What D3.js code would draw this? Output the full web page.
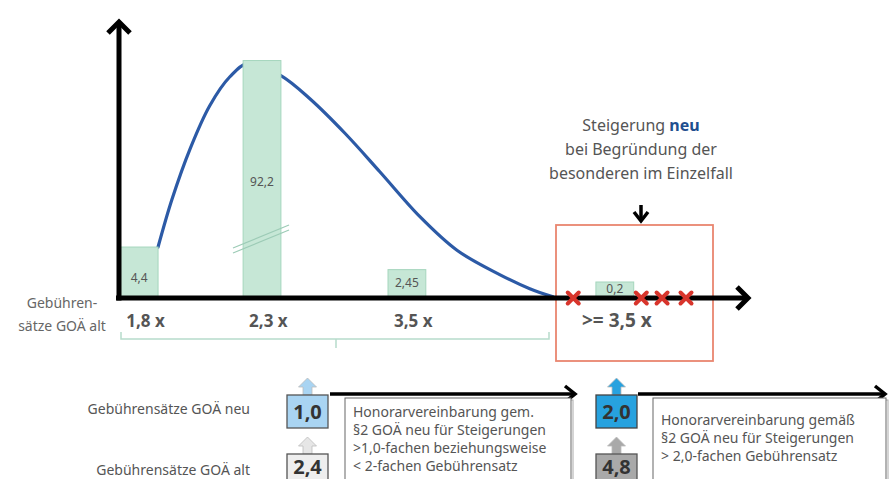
<!DOCTYPE html>
<html>
<head>
<meta charset="utf-8">
<script src="https://cdn.jsdelivr.net/npm/d3@7"></script>
<style>
  html, body { margin: 0; padding: 0; background: #fff; }
  svg { display: block; font-family: "Noto Sans", "Open Sans", sans-serif; }
</style>
</head>
<body>
<svg id="chart" width="895" height="479"></svg>
<script>
// Fee multipliers (GOÄ alt) and share of billed cases in percent
const categories = ["1,8 x", "2,3 x", "3,5 x", ">= 3,5 x"];
const shares = [4.4, 92.2, 2.45, 0.2];
const shareLabels = ["4,4", "92,2", "2,45", "0,2"];

// Schematic distribution curve: [position, frequency]
const curveShape = [
  [6.2, 4.4], [8.4, 8.5], [11.3, 12.9], [14.4, 16.6], [17.6, 19.1],
  [20.6, 20.3], [25.7, 19.2], [30.3, 17.2], [35.9, 14.2], [41.4, 10.9],
  [47.8, 7.0], [53.7, 4.1], [60.5, 2.0], [65.2, 0.8], [68.9, 0.1]
];

// New fee rates (GOÄ neu) vs. old rates
const rateNew = ["1,0", "2,0"];
const rateOld = ["2,4", "4,8"];
const agreementText = [
  ["Honorarvereinbarung gem.", "§2 GOÄ neu für Steigerungen", ">1,0-fachen beziehungsweise", "< 2-fachen Gebührensatz"],
  ["Honorarvereinbarung gemäß", "§2 GOÄ neu für Steigerungen", "> 2,0-fachen Gebührensatz"]
];
const noteLines = ["Steigerung ", "bei Begründung der", "besonderen im Einzelfall"];

const svg = d3.select("#chart");

const x0 = 119, xEnd = 749, base = 298, yTop = 20;
const x = d3.scaleLinear().domain([0, 100]).range([x0, xEnd]);
const y = d3.scaleLinear().domain([0, 24]).range([base, yTop]);
const slot = d3.scaleOrdinal().domain(categories).range([0.2, 19.7, 42.7, 75.7]);
const barW = 6;
const cap = 20.5;      // tallest bar is drawn broken
const minH = 16;       // room for the value label

const green = "#c6e7d6", greenLine = "#a5d6bd", txt = "#555";

// distribution curve (behind the bars)
svg.append("path")
  .datum(curveShape)
  .attr("d", d3.line().x(d => x(d[0])).y(d => y(d[1])).curve(d3.curveCatmullRom.alpha(0.5)))
  .attr("fill", "none").attr("stroke", "#2c5aa6").attr("stroke-width", 3.2)
  .attr("stroke-linecap", "round");

// highlighted region for the new rule
svg.append("rect").attr("x", 556).attr("y", 225).attr("width", 157).attr("height", 136)
  .attr("fill", "none").attr("stroke", "#e9866f").attr("stroke-width", 1.8);

// bars
const bars = svg.append("g");
categories.forEach((c, i) => {
  const v = Math.min(shares[i], cap);
  const h = Math.max(base - y(v), minH);
  bars.append("rect")
    .attr("x", x(slot(c))).attr("y", base - h)
    .attr("width", x(slot(c) + barW) - x(slot(c))).attr("height", h)
    .attr("fill", green).attr("stroke", greenLine).attr("stroke-width", 1);
  const cx = x(slot(c) + barW / 2);
  const cy = shares[i] > cap ? 181.5 : base - 2.5 - Math.min((h - 2.5) / 2, 18);
  bars.append("text").attr("x", cx).attr("y", cy + 4.5).attr("text-anchor", "middle")
    .attr("font-size", 12).attr("fill", "#555").text(shareLabels[i]);
});

// break marks on the tallest bar
[0, 5].forEach(o => {
  svg.append("line").attr("x1", 233).attr("y1", 248 + o).attr("x2", 289).attr("y2", 225 + o)
    .attr("stroke", "#9ccbb6").attr("stroke-width", 1.2);
});

// axes with arrow heads
const axis = svg.append("g").attr("stroke", "#000").attr("stroke-width", 5)
  .attr("fill", "none").attr("stroke-linecap", "butt").attr("stroke-linejoin", "miter");
axis.append("line").attr("x1", x0).attr("y1", base + 2.5).attr("x2", x0).attr("y2", yTop + 2);
axis.append("path").attr("d", `M${x0 - 11},${yTop + 13} L${x0},${yTop + 2} L${x0 + 11},${yTop + 13}`);
axis.append("line").attr("x1", x0 - 3).attr("y1", base).attr("x2", xEnd - 2).attr("y2", base);
axis.append("path").attr("d", `M${xEnd - 12},${base - 11} L${xEnd - 1},${base} L${xEnd - 12},${base + 11}`);

// excluded rates (red crosses)
[72.1, 82.9, 86.2, 90.0].forEach(p => {
  const cx = x(p), s = 5.5;
  svg.append("path")
    .attr("d", `M${cx - s},${base - s} L${cx + s},${base + s} M${cx - s},${base + s} L${cx + s},${base - s}`)
    .attr("stroke", "#d8352c").attr("stroke-width", 4).attr("stroke-linecap", "round");
});

// category labels
categories.forEach((c, i) => {
  svg.append("text").attr("x", i < 3 ? x(slot(c)) + 6 : 582).attr("y", 327)
    .attr("font-size", i < 3 ? 17 : 19).attr("font-weight", "bold").attr("fill", txt).text(c);
});

// bracket grouping the old rates
svg.append("path").attr("d", "M121,332 L121,339 L549,339 L549,332 M336,339 L336,348")
  .attr("fill", "none").attr("stroke", "#b7dccb").attr("stroke-width", 1.5);

// left axis caption
svg.append("text").attr("x", 62).attr("y", 308).attr("text-anchor", "middle")
  .attr("font-size", 14).attr("fill", "#666").text("Gebühren-");
svg.append("text").attr("x", 62).attr("y", 331).attr("text-anchor", "middle")
  .attr("font-size", 14).attr("fill", "#666").text("sätze GOÄ alt");

// note above the highlighted region
const note = svg.append("text").attr("text-anchor", "middle").attr("font-size", 16).attr("fill", txt);
const t0 = note.append("tspan").attr("x", 641).attr("y", 131).text(noteLines[0]);
t0.append("tspan").attr("font-weight", "bold").attr("fill", "#1f4f8f").text("neu");
note.append("tspan").attr("x", 641).attr("y", 155).text(noteLines[1]);
note.append("tspan").attr("x", 641).attr("y", 179).text(noteLines[2]);
svg.append("line").attr("x1", 641).attr("y1", 205).attr("x2", 641).attr("y2", 221)
  .attr("stroke", "#000").attr("stroke-width", 3.5);
svg.append("path").attr("d", "M634,212 L641,221 L648,212").attr("fill", "none")
  .attr("stroke", "#000").attr("stroke-width", 3.5);

// bottom: new vs. old rates
svg.append("text").attr("x", 250).attr("y", 414).attr("text-anchor", "end")
  .attr("font-size", 14).attr("fill", txt).text("Gebührensätze GOÄ neu");
svg.append("text").attr("x", 250).attr("y", 475).attr("text-anchor", "end")
  .attr("font-size", 14).attr("fill", txt).text("Gebührensätze GOÄ alt");

function rateBox(bx, by, label, fill, arrowFill, stroke, ty) {
  const w = 41, h = 33, cx = bx + w / 2;
  svg.append("path")
    .attr("d", `M${cx - 4.5},${by} L${cx - 4.5},${by - 8} L${cx - 9},${by - 8} L${cx},${by - 17} L${cx + 9},${by - 8} L${cx + 4.5},${by - 8} L${cx + 4.5},${by} Z`)
    .attr("fill", arrowFill).attr("stroke", "#bbb").attr("stroke-width", 0.8);
  svg.append("rect").attr("x", bx).attr("y", by).attr("width", w).attr("height", h)
    .attr("fill", fill).attr("stroke", stroke).attr("stroke-width", 1.3);
  svg.append("text").attr("x", cx).attr("y", by + ty).attr("text-anchor", "middle")
    .attr("font-size", 20).attr("font-weight", "bold").attr("fill", "#333").text(label);
}
rateBox(287, 395, rateNew[0], "#a9d4f2", "#a9d4f2", "#555", 24);
rateBox(287, 454, rateOld[0], "#eeeeee", "#e6e6e6", "#555", 20);
rateBox(596, 395, rateNew[1], "#27a2df", "#27a2df", "#444", 24);
rateBox(596, 454, rateOld[1], "#a9a9a9", "#a9a9a9", "#555", 20);

// agreement arrows and text boxes
function agreement(lx, rx, boxX, boxW, lines, firstY) {
  svg.append("line").attr("x1", lx).attr("y1", 394).attr("x2", rx - 2).attr("y2", 394)
    .attr("stroke", "#000").attr("stroke-width", 3.5);
  svg.append("path").attr("d", `M${rx - 11},${386} L${rx - 1},${394} L${rx - 11},${402}`)
    .attr("fill", "none").attr("stroke", "#000").attr("stroke-width", 3.5);
  svg.append("rect").attr("x", boxX + 2).attr("y", 400).attr("width", boxW).attr("height", 90)
    .attr("fill", "none").attr("stroke", "#aaa").attr("stroke-width", 1);
  svg.append("rect").attr("x", boxX).attr("y", 398).attr("width", boxW).attr("height", 90)
    .attr("fill", "#fff").attr("stroke", "#666").attr("stroke-width", 1);
  lines.forEach((l, i) => {
    svg.append("text").attr("x", boxX + 8).attr("y", firstY + i * 18)
      .attr("font-size", 14).attr("fill", txt).text(l);
  });
}
agreement(330, 576, 345, 226, agreementText[0], 417);
agreement(638, 886, 653, 233, agreementText[1], 425);
</script>
</body>
</html>
